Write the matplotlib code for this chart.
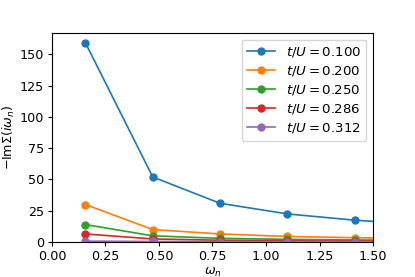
import numpy as np
from matplotlib import pyplot as plt

# Matsubara frequencies
wn = [0.157, 0.471, 0.785, 1.100, 1.414, 1.728]

tu = [0.100, 0.200, 0.250, 0.286, 0.312]
sig_100 = [159.0, 52.0, 31.0, 22.5, 17.5, 14.0]
sig_200 = [30.0, 10.0, 6.5, 4.5, 3.5, 2.8]
sig_250 = [14.0, 5.0, 3.0, 2.2, 1.7, 1.4]
sig_286 = [6.5, 2.5, 1.5, 1.0, 0.8, 0.7]
sig_312 = [0.8, 0.5, 0.4, 0.3, 0.25, 0.2]

plt.rcParams['font.size'] = 9.2
plt.rcParams['xtick.major.size'] = 3
plt.rcParams['ytick.major.size'] = 3
plt.rcParams['xtick.major.pad'] = 2.6
plt.rcParams['ytick.major.pad'] = 2.6

fig = plt.figure(figsize=(4.15, 2.77), dpi=100)
ax = fig.add_subplot(111)
fig.subplots_adjust(left=0.125, right=0.899, top=0.881, bottom=0.126)

for t, s in zip(tu, [sig_100, sig_200, sig_250, sig_286, sig_312]):
    ax.plot(wn, s, marker='o', markersize=5, lw=1.2, label=r'$t/U = %.3f$' % t)

ax.set_xlim(0, 1.5)
ax.set_ylim(0, 167)
ax.set_xticks([0, 0.25, 0.5, 0.75, 1.0, 1.25, 1.5])
ax.set_yticks([0, 25, 50, 75, 100, 125, 150])
ax.set_xlabel(r'$\omega_n$', labelpad=2)
ax.set_ylabel(r'$-\mathrm{Im}\Sigma(i\omega_n)$', labelpad=2)
ax.legend(loc='upper right', fontsize=9.6, labelspacing=0.38, handlelength=2.1)

fig.savefig('out.png', dpi=100)
